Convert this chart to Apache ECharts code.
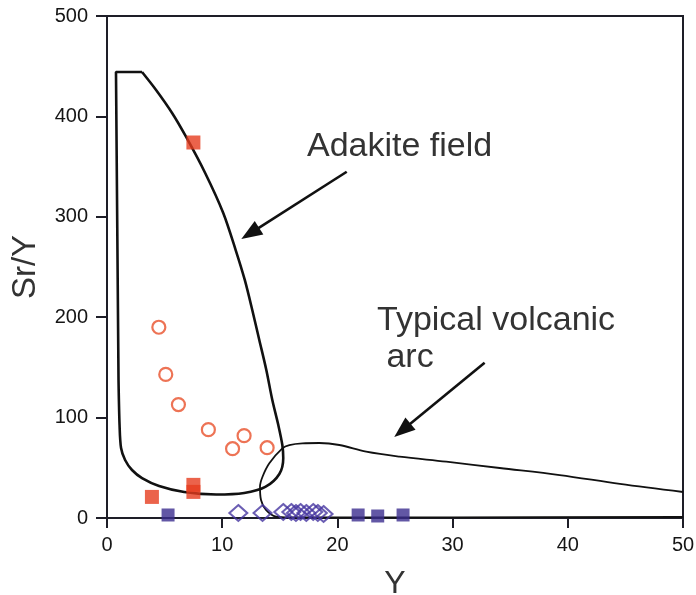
<!DOCTYPE html>
<html>
<head>
<meta charset="utf-8">
<script src="https://cdn.jsdelivr.net/npm/echarts@6/dist/echarts.min.js"></script>
<style>
html,body{margin:0;padding:0;background:#fff;}
#chart{width:696px;height:595px;}
</style>
</head>
<body>
<div id="chart"></div>
<script>
// ---- data ----
const xTicks = [0, 10, 20, 30, 40, 50];
const yTicks = [0, 100, 200, 300, 400, 500];

const redSquares = [[7.5, 374], [3.9, 21], [7.5, 33], [7.5, 26]];
const redCircles = [[4.5, 190], [5.1, 143], [6.2, 113], [8.8, 88], [10.9, 69], [11.9, 82], [13.9, 70]];
const blueSquares = [[5.3, 3], [21.8, 3], [23.5, 2], [25.7, 3]];
const blueDiamonds = [[11.4, 5], [13.5, 5], [15.3, 6], [16.0, 6], [16.4, 5], [16.8, 6], [17.3, 5], [17.9, 6], [18.3, 5], [18.8, 4]];

// Adakite field boundary: straight part (left edge + flat top) and curved part
const adakiteStraight = [[1.0, 137.5], [0.78, 444.2], [3.04, 444.2]];
const adakiteCurve = [[3.04, 444.2], [4.26, 426.3], [5.65, 403.4], [6.87, 379.5], [8.52, 343.6], [10.09, 303.8],
  [11.17, 266.9], [11.96, 237.1], [12.61, 207.2], [13.22, 177.3], [13.83, 147.4], [14.35, 117.5], [14.87, 92.6],
  [15.22, 72.7], [15.30, 59.8], [14.96, 43.8], [13.74, 30.9], [11.91, 24.9], [9.48, 23.4], [6.70, 25.9],
  [4.52, 31.9], [3.04, 39.8], [2.17, 47.8], [1.57, 57.8], [1.22, 69.7], [1.09, 92.6], [1.0, 137.5]];

// Typical volcanic arc boundary
const arcField = [[50, 25.9], [44.52, 33.9], [39.30, 42.8], [34.09, 49.8], [29.45, 56.1], [25.39, 61.1],
  [22.50, 66.0], [20.17, 72.7], [18.43, 74.7], [16.96, 74.4], [15.83, 72.7], [15.22, 69.4], [14.09, 54.5],
  [13.50, 41.1], [13.28, 31.2], [13.37, 17.9], [13.80, 8.0], [14.67, 1.3], [15.83, 0.5], [30, 0.7], [50, 1.0]];

// annotation arrows [start, end]
const adakiteArrow = [[20.81, 344.9], [12.43, 283.4]];
const arcArrow = [[32.78, 154.7], [25.64, 87.4]];

const labels = { adakite: 'Adakite field', arc: 'Typical volcanic\n arc', xName: 'Y', yName: 'Sr/Y' };

// ---- chart ----
const chart = echarts.init(document.getElementById('chart'), null, { renderer: 'canvas' });
const FONT = 'Liberation Sans, Arial, Helvetica, sans-serif';
const AX = '#1e1e28';

function arrowLine(pair) {
  return [{ coord: pair[0] }, { coord: pair[1] }];
}

const option = {
  backgroundColor: '#ffffff',
  animation: false,
  grid: {
    left: 107, right: 13, top: 16, bottom: 77, show: true, borderColor: AX, borderWidth: 2,
    containLabel: false, outerBoundsMode: 'none'
  },
  xAxis: {
    type: 'value', min: xTicks[0], max: xTicks[xTicks.length - 1], interval: 10,
    name: labels.xName, nameLocation: 'middle', nameGap: 50,
    nameTextStyle: { fontFamily: FONT, fontSize: 32, color: '#333' },
    axisLine: { show: true, lineStyle: { color: AX, width: 2 } },
    axisTick: { show: true, inside: false, length: 10, lineStyle: { color: AX, width: 2 } },
    axisLabel: { fontFamily: FONT, fontSize: 20, color: '#151515', margin: 17 },
    splitLine: { show: false }
  },
  yAxis: {
    type: 'value', min: yTicks[0], max: yTicks[yTicks.length - 1], interval: 100,
    name: labels.yName, nameLocation: 'middle', nameGap: 65, nameRotate: 90,
    nameTextStyle: { fontFamily: FONT, fontSize: 33, color: '#333' },
    axisLine: { show: true, lineStyle: { color: AX, width: 2 } },
    axisTick: { show: true, inside: false, length: 11, lineStyle: { color: AX, width: 2 } },
    axisLabel: { fontFamily: FONT, fontSize: 20, color: '#151515', margin: 19 },
    splitLine: { show: false }
  },
  series: [
    {
      type: 'line', data: adakiteStraight, showSymbol: false, symbol: 'none', smooth: false,
      lineStyle: { color: '#111', width: 2.6 }, z: 3, silent: true
    },
    {
      type: 'line', data: adakiteCurve, showSymbol: false, symbol: 'none', smooth: 0.3,
      lineStyle: { color: '#111', width: 2.6 }, z: 3, silent: true,
      markLine: {
        silent: true, symbol: ['none', 'triangle'], symbolSize: [16, 21],
        label: { show: false },
        lineStyle: { color: '#111', width: 2.6, type: 'solid' },
        data: [arrowLine(adakiteArrow), arrowLine(arcArrow)]
      }
    },
    {
      type: 'line', data: arcField, showSymbol: false, symbol: 'none', smooth: 0.35,
      lineStyle: { color: '#111', width: 1.8 }, z: 3, silent: true
    },
    {
      type: 'scatter', data: redSquares, symbol: 'rect', symbolSize: 14,
      itemStyle: { color: '#e63c1e' }, z: 4
    },
    {
      type: 'scatter', data: redCircles, symbol: 'circle', symbolSize: 13,
      itemStyle: { color: 'rgba(255,255,255,0)', borderColor: '#e8502a', borderWidth: 2.2 }, z: 4
    },
    {
      type: 'scatter', data: blueSquares, symbol: 'rect', symbolSize: 13,
      itemStyle: { color: '#3b2d8e' }, z: 4
    },
    {
      type: 'scatter', data: blueDiamonds, symbol: 'diamond', symbolSize: [18, 16],
      itemStyle: { color: 'rgba(255,255,255,0)', borderColor: '#4636a0', borderWidth: 2 }, z: 4
    }
  ],
  graphic: [
    {
      type: 'text', left: 307, top: 130,
      style: { text: labels.adakite, fontFamily: FONT, fontSize: 34, fill: '#333' }
    },
    {
      type: 'text', left: 377, top: 302,
      style: { text: labels.arc, fontFamily: FONT, fontSize: 34, fill: '#333', lineHeight: 37 }
    }
  ]
};
chart.setOption(option);
</script>
</body>
</html>
